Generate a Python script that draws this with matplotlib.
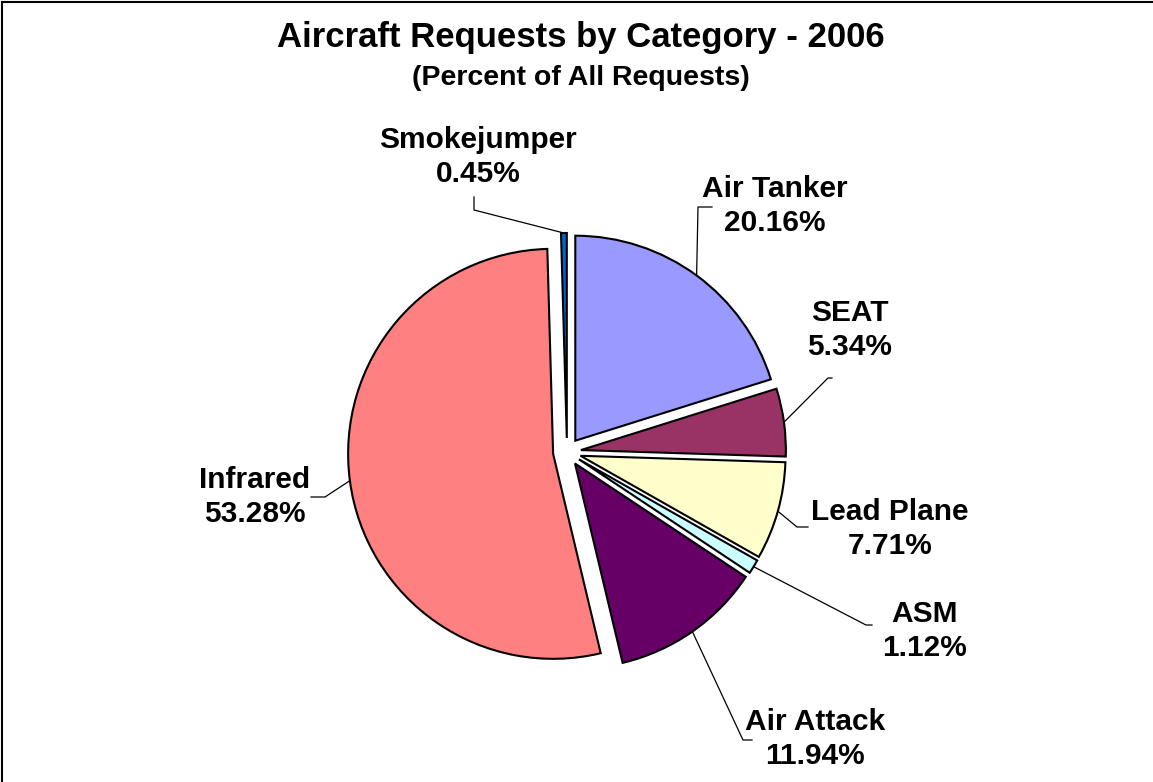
"""Pie chart of aircraft requests by category, 2006."""

import numpy as np
import matplotlib
matplotlib.use("Agg")
import matplotlib.pyplot as plt

# data (clockwise from 12 o'clock)
categories = ["Air Tanker", "SEAT", "Lead Plane", "ASM", "Air Attack",
              "Infrared", "Smokejumper"]
percents = [20.16, 5.34, 7.71, 1.12, 11.94, 53.28, 0.45]
colors = ["#9999FF", "#993366", "#FFFFCC", "#CCFFFF", "#660066",
          "#FF8080", "#0066CC"]

# layout (pixel space, y up): label centre, leader elbow, leader end
label_pos = [(775, 576), (850, 452), (890, 253), (925, 151), (815, 43),
             (255, 285), (478, 625)]
elbows = [(698, 575), (828, 404), (797, 255), (866, 157), (743, 42),
          (325, 285), (474, 572)]
ends = [(712, 575), (832, 404), (808, 255), (872, 157), (752, 42),
        (311, 285), (474, 585)]

W, H = 1153, 782
plt.rcParams["font.family"] = ["Liberation Sans", "DejaVu Sans"]

fig = plt.figure(figsize=(W / 100, H / 100), dpi=100)
ax = fig.add_axes([0, 0, 1, 1])

radius = 205
# explode is in data units here (pixels), not a fraction of the radius
wedges, _ = ax.pie(percents, colors=colors, startangle=90, counterclock=False,
                   explode=[14] * len(percents), radius=radius,
                   center=(567, 330), frame=True,
                   wedgeprops=dict(edgecolor="black", linewidth=1.5))
ax.set_xlim(0, W)
ax.set_ylim(0, H)
ax.set_aspect("equal")
ax.axis("off")

for w, name, pct, lp, el, en in zip(wedges, categories, percents,
                                    label_pos, elbows, ends):
    mid = np.deg2rad((w.theta1 + w.theta2) / 2)
    cx, cy = w.center
    sx, sy = cx + w.r * np.cos(mid), cy + w.r * np.sin(mid)
    ax.plot([sx, el[0], en[0]], [sy, el[1], en[1]], color="black", lw=0.9)
    ax.text(lp[0], lp[1], f"{name}\n{pct:.2f}%", ha="center", va="center",
            fontsize=21.5, fontweight="bold", linespacing=1.25)

fig.text(581 / W, 1 - 38 / H, "Aircraft Requests by Category - 2006",
         ha="center", va="center", fontsize=25, fontweight="bold")
fig.text(581 / W, 1 - 78 / H, "(Percent of All Requests)",
         ha="center", va="center", fontsize=20.5, fontweight="bold")

# chart border (top and left visible)
fig.add_artist(plt.Line2D([1.5 / W, 1.5 / W], [0, 1 - 1.5 / H],
                          color="black", lw=1.5, transform=fig.transFigure))
fig.add_artist(plt.Line2D([1.5 / W, 1], [1 - 1.5 / H, 1 - 1.5 / H],
                          color="black", lw=1.5, transform=fig.transFigure))

fig.savefig("out.png", dpi=100)
plt.close(fig)
